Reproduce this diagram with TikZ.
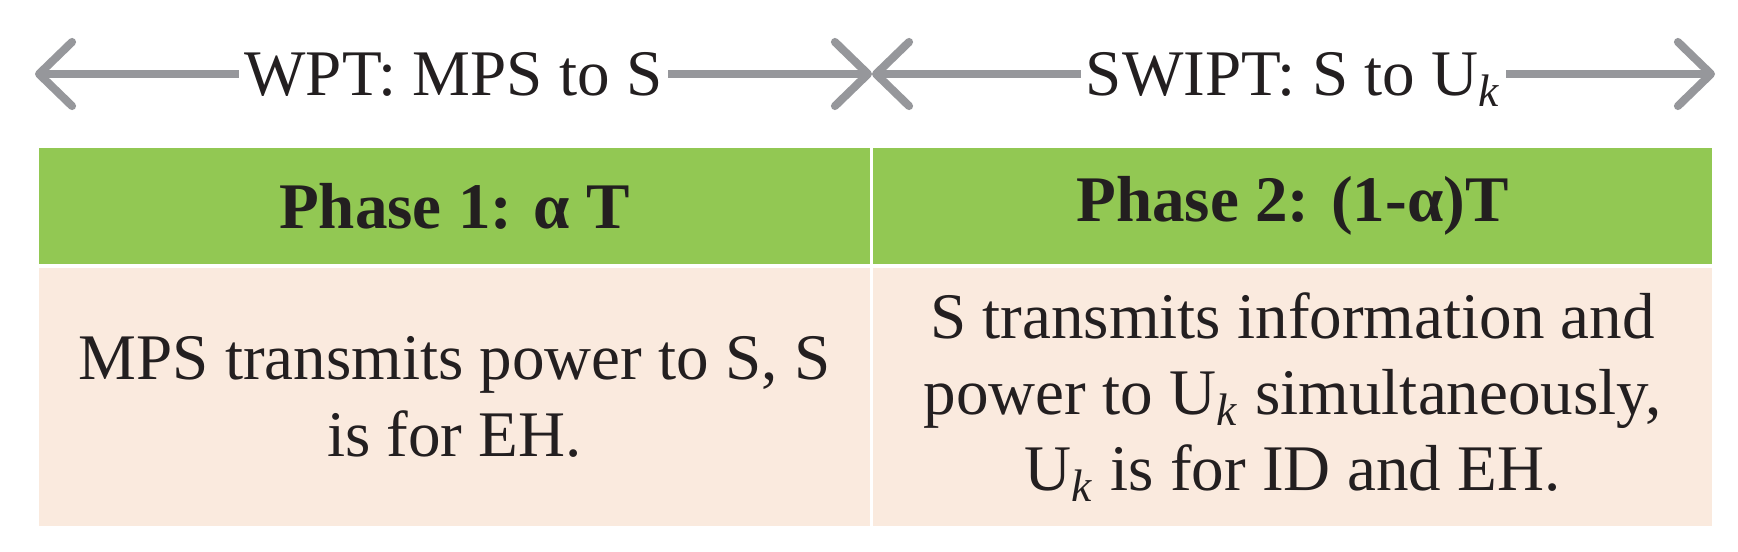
\documentclass[tikz,border=0pt]{standalone}
\usepackage{fontspec}
\setmainfont{Liberation Serif}
\usetikzlibrary{arrows.meta}

\definecolor{arrowgray}{RGB}{150,151,155}
\definecolor{headgreen}{RGB}{146,200,83}
\definecolor{bodypink}{RGB}{250,234,222}
\definecolor{textdark}{RGB}{35,31,32}

\begin{document}
\begin{tikzpicture}[x=0.01cm, y=-0.01cm,
    every node/.style={font=\fontsize{18.5}{21.7}\selectfont, text=textdark},
    phasearrow/.style={arrowgray, line width=2.3pt,
      {Straight Barb[length=3.3mm, width=6.4mm, round]}-{Straight Barb[length=3.3mm, width=6.4mm, round]}},
    arrlabel/.style={fill=white, inner sep=1.5pt, text height=0.43cm, text depth=0cm},
    headcell/.style={fill=headgreen, minimum height=1.16cm, inner sep=0pt, font=\fontsize{18.5}{21.7}\selectfont\bfseries},
    bodycell/.style={fill=bodypink, minimum height=2.58cm, inner sep=0pt, align=center}]
      \useasboundingbox (0,0) rectangle (1738,551);

      % Arrows for the two phases
      \coordinate (lend) at (35,74);
      \coordinate (mid) at (872,74);
      \coordinate (rend) at (1715,74);
      \draw[phasearrow] (lend) -- node[arrlabel] (wpt) {WPT: MPS to S} (mid);
      \draw[phasearrow] (mid) -- node[arrlabel] (swipt) {SWIPT: S to U\textsubscript{\textit{k}}} (rend);

      % Header row
      \node[headcell, minimum width=8.31cm] (head1) at (454.5,206) {Phase 1: α T};
      \node[headcell, minimum width=8.39cm] (head2) at (1292.5,206) {Phase 2: (1-α)T};

      % Description row
      \node[bodycell, minimum width=8.31cm] (body1) at (454.5,397)
        {MPS transmits power to S, S\\ is for EH.};
      \node[bodycell, minimum width=8.39cm] (body2) at (1292.5,397)
        {S transmits information and\\ power to U\textsubscript{\textit{k}} simultaneously,\\ U\textsubscript{\textit{k}} is for ID and EH.};
    \end{tikzpicture}
\end{document}
